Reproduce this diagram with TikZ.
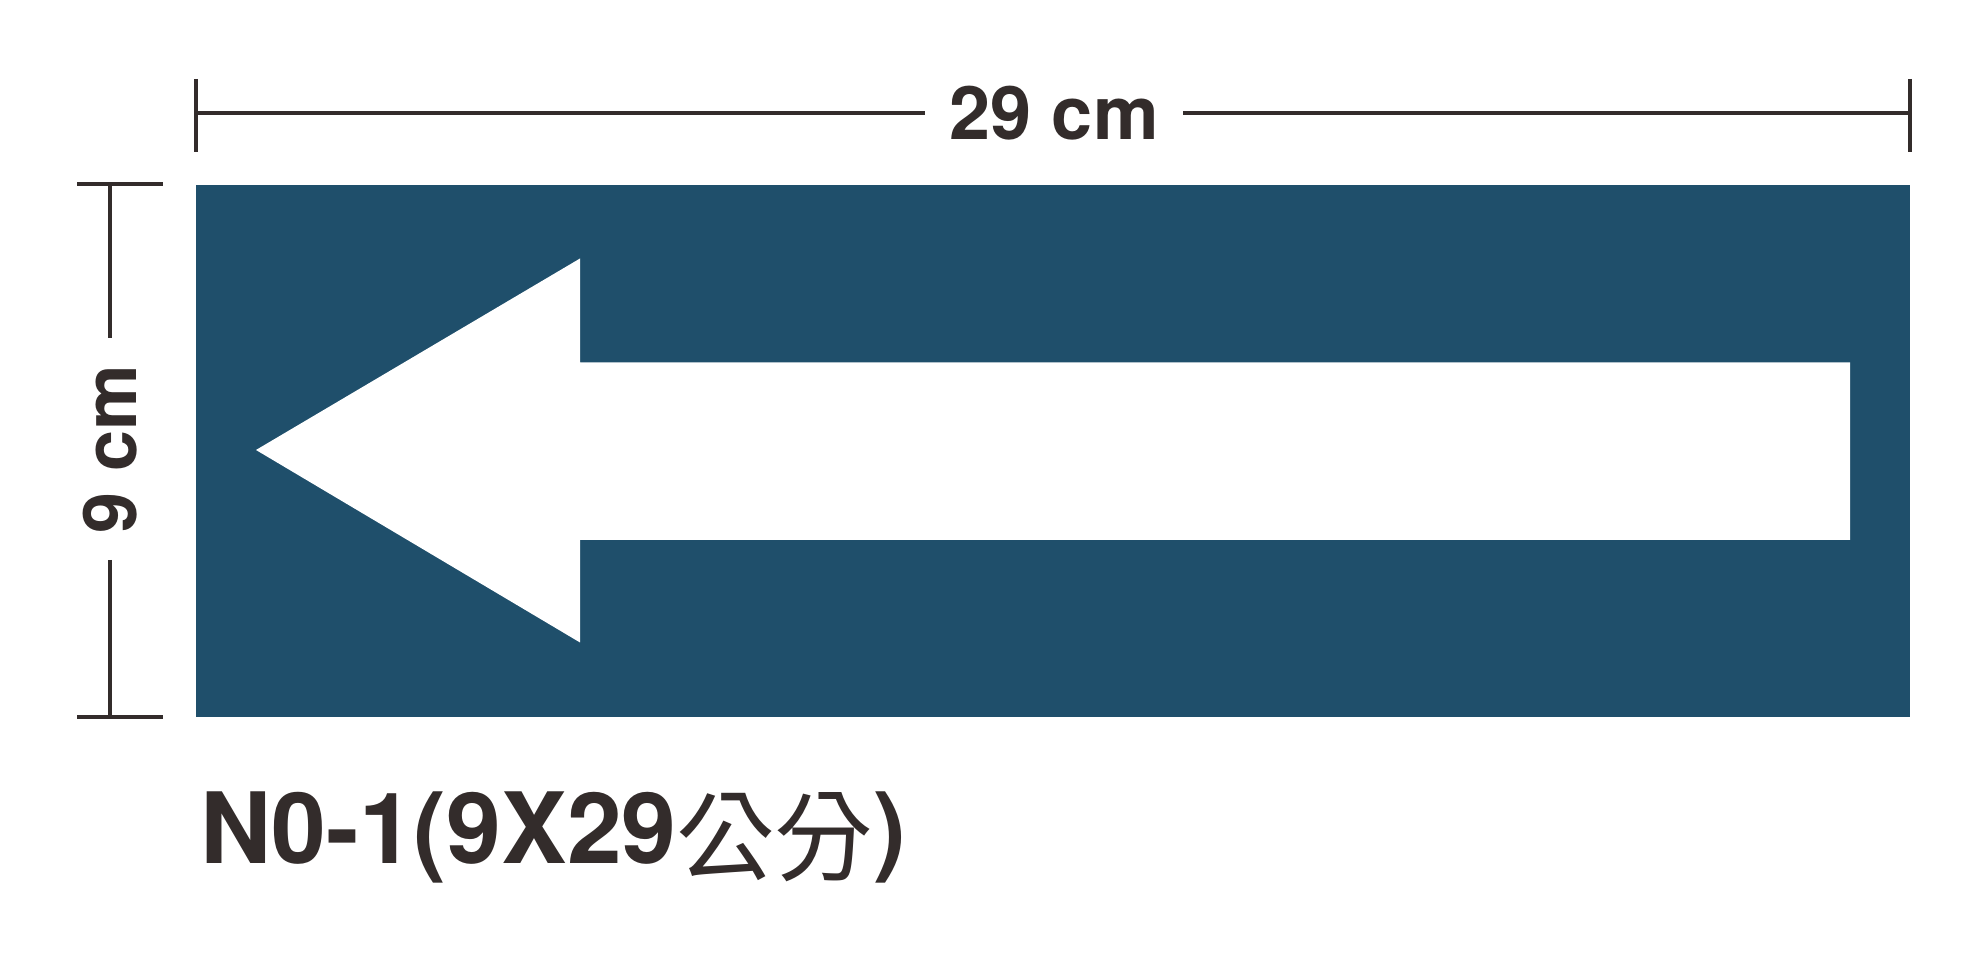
\documentclass[tikz,border=0pt]{standalone}
\usepackage{xcolor}
\usepackage{fontspec}
\setmainfont{TeX Gyre Heros}
\newfontfamily\cjkfont{Noto Sans CJK TC}
\definecolor{signblue}{RGB}{31,79,107}
\definecolor{inkdark}{RGB}{51,44,43}
\begin{document}
\begin{tikzpicture}[
		dimline/.style={draw=inkdark, line width=1.4pt},
		dimlabel/.style={text=inkdark, font=\fontsize{21}{21}\selectfont\bfseries, inner sep=0pt},
		board/.style={fill=signblue},
		pointer/.style={fill=white},
		caption/.style={text=inkdark, font=\fontsize{28}{28}\selectfont\bfseries, inner sep=0pt, anchor=base west}
	]
		\useasboundingbox (0,0) rectangle (19.87,9.65);
		
		% Sign
		\path[board] (1.96,2.48) rectangle (19.10,7.80);
		
		% Arrow
		\path[pointer] (2.56,5.15) -- (5.80,7.065) -- (5.80,6.026) -- (18.50,6.026)
			-- (18.50,4.25) -- (5.80,4.25) -- (5.80,3.225) -- cycle;
		
		% Width
		\coordinate (wl) at (1.96,8.52);
		\coordinate (wr) at (19.10,8.52);
		\node[dimlabel, inner xsep=0.24cm] (wlab) at (10.54,8.52) {29 cm};
		\draw[dimline] (wl) -- (wlab);
		\draw[dimline] (wlab) -- (wr);
		\draw[dimline] ([yshift=0.34cm]wl) -- ([yshift=-0.39cm]wl);
		\draw[dimline] ([yshift=0.34cm]wr) -- ([yshift=-0.39cm]wr);
		
		% Height
		\coordinate (ht) at (1.10,7.81);
		\coordinate (hb) at (1.10,2.48);
		\node[dimlabel, rotate=90, inner xsep=0.26cm] (hlab) at (1.10,5.16) {9 cm};
		\draw[dimline] (ht) -- (hlab);
		\draw[dimline] (hlab) -- (hb);
		\draw[dimline] ([xshift=-0.33cm]ht) -- ([xshift=0.53cm]ht);
		\draw[dimline] ([xshift=-0.33cm]hb) -- ([xshift=0.53cm]hb);
		
		% Caption
		\node[caption] (cap) at (2.00,1.01) {N0-1(9X29\raisebox{-0.1cm}{\cjkfont\mdseries 公分})};
	\end{tikzpicture}
\end{document}
